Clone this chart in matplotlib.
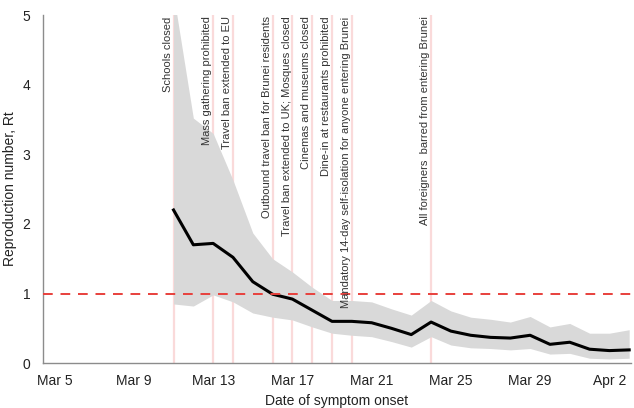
import numpy as np
import pandas as pd
import matplotlib
matplotlib.use("Agg")
import matplotlib.pyplot as plt
import matplotlib.dates as mdates

plt.rcParams['font.family'] = ['Liberation Sans', 'DejaVu Sans']

# Rt estimates by date of symptom onset (Mar 11 - Apr 3)
dates = pd.date_range("2020-03-11", "2020-04-03")
rt_mean = [2.20, 1.70, 1.72, 1.52, 1.17, 0.99, 0.92, 0.76, 0.60, 0.60, 0.58, 0.50,
           0.41, 0.59, 0.46, 0.40, 0.37, 0.36, 0.40, 0.27, 0.30, 0.20, 0.18, 0.19]
rt_upper = [5.30, 3.52, 3.30, 2.63, 1.87, 1.50, 1.31, 1.09, 0.90, 0.90, 0.88, 0.78,
            0.69, 0.90, 0.75, 0.66, 0.63, 0.59, 0.67, 0.52, 0.57, 0.43, 0.43, 0.48]
rt_lower = [0.85, 0.82, 0.98, 0.88, 0.72, 0.66, 0.62, 0.52, 0.43, 0.40, 0.38, 0.31,
            0.23, 0.38, 0.26, 0.22, 0.21, 0.19, 0.21, 0.13, 0.14, 0.07, 0.06, 0.07]

# public health measures
event_dates = pd.to_datetime(["2020-03-11", "2020-03-13", "2020-03-14", "2020-03-16",
                              "2020-03-17", "2020-03-18", "2020-03-19", "2020-03-20",
                              "2020-03-24"])
event_labels = ["Schools closed",
                "Mass gathering prohibited",
                "Travel ban extended to EU",
                "Outbound travel ban for Brunei residents",
                "Travel ban extended to UK; Mosques closed",
                "Cinemas and museums closed",
                "Dine-in at restaurants prohibited",
                "Mandatory 14-day self-isolation for anyone entering Brunei",
                "All foreigners  barred from entering Brunei"]

tick_dates = pd.date_range("2020-03-05", "2020-04-02", freq="4D")

fig = plt.figure(figsize=(6.34, 4.08), dpi=100)
ax = fig.add_axes([0.068, 0.110, 0.927, 0.853])

for d, lab in zip(event_dates, event_labels):
    ax.axvline(d, color='#fadada', lw=1.6, zorder=1)
    ax.text(d - pd.Timedelta(hours=7), 4.98, lab, rotation=90, ha='center', va='top',
            fontsize=8, color='#333333', zorder=4)

ax.fill_between(dates, rt_lower, rt_upper, color='#d9d9d9', lw=0, zorder=2)
ax.plot(dates, rt_mean, color='black', lw=2.2, zorder=3)
ax.axhline(1, color='#e8403c', lw=1.4, ls=(0, (5, 4)), zorder=3)

ax.set_xlim(pd.Timestamp("2020-03-04 10:00"), pd.Timestamp("2020-04-03 02:00"))
ax.set_ylim(0, 5)
ax.set_xticks(tick_dates)
ax.xaxis.set_major_formatter(mdates.DateFormatter('%b %-d'))
ax.set_yticks(range(6))
ax.tick_params(length=0, labelsize=10, colors='#222222')
ax.tick_params(axis='x', pad=8)
ax.tick_params(axis='y', pad=9)

for s in ['top', 'right']:
    ax.spines[s].set_visible(False)
for s in ['left', 'bottom']:
    ax.spines[s].set_color('#8c8c8c')
    ax.spines[s].set_linewidth(1.0)

ax.set_xlabel("Date of symptom onset", fontsize=10, color='#222222', labelpad=4)
ax.set_ylabel("Reproduction number, Rt", fontsize=10, color='#222222', labelpad=4)

fig.savefig("out.png", dpi=100)
